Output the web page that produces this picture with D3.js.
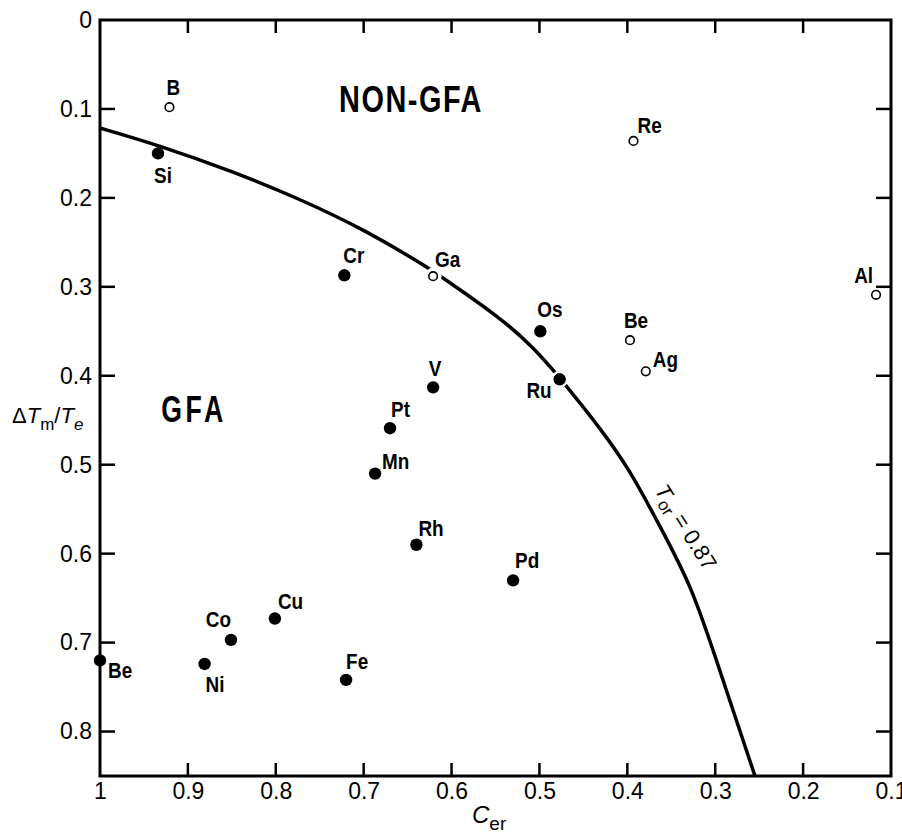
<!DOCTYPE html>
<html>
<head>
<meta charset="utf-8">
<script src="https://cdn.jsdelivr.net/npm/d3@7"></script>
<style>
  body { margin: 0; background: #fff; }
  text { font-family: "Liberation Sans", Arial, sans-serif; fill: #000; }
</style>
</head>
<body>
<script>
let width = 902
let height = 836

// elements
let elements = ["B", "Si", "Cr", "Ga", "Re", "Al", "Os", "Ru", "V", "Pt",
                "Mn", "Rh", "Be", "Ag", "Pd", "Fe", "Cu", "Co", "Ni", "Be"]
let cer = [0.921, 0.934, 0.722, 0.621, 0.393, 0.117, 0.499, 0.477, 0.621, 0.670,
           0.687, 0.640, 0.397, 0.379, 0.530, 0.720, 0.801, 0.851, 0.881, 1.0]
let dtm = [0.098, 0.150, 0.287, 0.288, 0.136, 0.309, 0.350, 0.404, 0.413, 0.459,
           0.510, 0.590, 0.360, 0.395, 0.630, 0.742, 0.673, 0.697, 0.724, 0.720]
let glassForming = [false, true, true, false, false, false, true, true, true, true,
                    true, true, false, false, true, true, true, true, true, true]

// the Tor = 0.87 boundary
let curveCer = [1.0, 0.934, 0.8487, 0.7724, 0.6962, 0.6279, 0.6097, 0.5449, 0.5073,
                0.4846, 0.4686, 0.4311, 0.3970, 0.3628, 0.3264, 0.2980, 0.2548]
let curveDtm = [0.1214, 0.1405, 0.1703, 0.2013, 0.2372, 0.2777, 0.2901, 0.3345, 0.3677,
                0.3935, 0.4126, 0.4587, 0.5060, 0.5695, 0.6375, 0.7218, 0.85]

let xTicks = [1, 0.9, 0.8, 0.7, 0.6, 0.5, 0.4, 0.3, 0.2, 0.1]
let yTicks = [0, 0.1, 0.2, 0.3, 0.4, 0.5, 0.6, 0.7, 0.8]

// label placement: [dx, dy, anchor]
let labelPos = [
    [4, -12, "middle"], [5, 30, "middle"], [-1, -12, "start"], [2, -9, "start"], [4, -8, "start"],
    [-3, -12, "end"], [-3, -14, "start"], [-8, 19, "end"], [2, -11, "middle"], [1, -11, "start"],
    [7, -5, "start"], [2, -9, "start"], [-6, -12, "start"], [7, -4, "start"], [2, -12, "start"],
    [0, -11, "start"], [3, -10, "start"], [0, -13, "end"], [1, 28, "start"], [8, 18, "start"]
]
let onCurve = ["Ga", "Ru"]

let svg = d3.select("body")
    .append("svg")
    .attr("width", width)
    .attr("height", height)

let x = d3.scaleLinear().domain([1, 0.1]).range([100, 891])
let y = d3.scaleLinear().domain([0, 0.85]).range([20, 776])

let pts = elements.map((e, i) => ({name: e, c: cer[i], d: dtm[i], filled: glassForming[i], pos: labelPos[i]}))

// boundary curve
let line = d3.line()
    .x(d => x(d[0]))
    .y(d => y(d[1]))
    .curve(d3.curveBasis)

svg.append("path")
    .datum(curveCer.map((c, i) => [c, curveDtm[i]]))
    .attr("d", line)
    .attr("fill", "none")
    .attr("stroke", "#000")
    .attr("stroke-width", 3.5)

// white gaps where the curve meets a point
svg.append("g").selectAll("circle")
    .data(pts.filter(p => onCurve.includes(p.name)))
    .enter()
    .append("circle")
    .attr("cx", d => x(d.c))
    .attr("cy", d => y(d.d))
    .attr("r", 8.5)
    .attr("fill", "#fff")

// frame
svg.append("rect")
    .attr("x", x(1)).attr("y", y(0))
    .attr("width", x(0.1) - x(1)).attr("height", y(0.85) - y(0))
    .attr("fill", "none")
    .attr("stroke", "#000")
    .attr("stroke-width", 3)

let fmt = d => d === 0 || d === 1 ? String(d) : d.toFixed(1)
let inner = xTicks.slice(1, -1)
let innerY = yTicks.slice(1)

let xAxis = svg.append("g")
    .attr("transform", `translate(0,${y(0.85)})`)
    .call(d3.axisBottom(x).tickValues(xTicks).tickFormat(fmt).tickSize(0).tickPadding(7))
xAxis.select(".domain").remove()
xAxis.selectAll("text").attr("font-size", 23)

let yAxis = svg.append("g")
    .attr("transform", `translate(${x(1)},0)`)
    .call(d3.axisLeft(y).tickValues(yTicks).tickFormat(fmt).tickSize(0).tickPadding(8))
yAxis.select(".domain").remove()
yAxis.selectAll("text").attr("font-size", 23)

// inward tick marks on all four sides
let ticks = svg.append("g").attr("stroke", "#000").attr("stroke-width", 2.5)
ticks.selectAll(".tb").data(inner).enter().append("line")
    .attr("x1", d => x(d)).attr("x2", d => x(d))
    .attr("y1", y(0.85)).attr("y2", y(0.85) - 13)
ticks.selectAll(".tt").data(inner).enter().append("line")
    .attr("x1", d => x(d)).attr("x2", d => x(d))
    .attr("y1", y(0)).attr("y2", y(0) + 13)
ticks.selectAll(".tl").data(innerY).enter().append("line")
    .attr("y1", d => y(d)).attr("y2", d => y(d))
    .attr("x1", x(1)).attr("x2", x(1) + 15)
ticks.selectAll(".tr").data(innerY).enter().append("line")
    .attr("y1", d => y(d)).attr("y2", d => y(d))
    .attr("x1", x(0.1)).attr("x2", x(0.1) - 15)

// points
svg.append("g").selectAll("circle")
    .data(pts)
    .enter()
    .append("circle")
    .attr("cx", d => x(d.c))
    .attr("cy", d => y(d.d))
    .attr("r", d => d.filled ? 6.2 : 4.3)
    .attr("fill", d => d.filled ? "#000" : "#fff")
    .attr("stroke", "#000")
    .attr("stroke-width", d => d.filled ? 0 : 1.6)

// element names, squeezed a little like the original lettering
svg.append("g").selectAll("text")
    .data(pts)
    .enter()
    .append("text")
    .attr("transform", d => `translate(${x(d.c) + d.pos[0]},${y(d.d) + d.pos[1]}) scale(0.86,1)`)
    .attr("text-anchor", d => d.pos[2])
    .attr("font-size", 22)
    .attr("font-weight", "bold")
    .text(d => d.name)

// region labels
svg.append("text")
    .attr("transform", "translate(411,112) scale(0.78,1)")
    .attr("text-anchor", "middle")
    .attr("font-size", 37)
    .attr("font-weight", "bold")
    .attr("letter-spacing", 2)
    .text("NON-GFA")

svg.append("text")
    .attr("transform", "translate(194,422) scale(0.72,1)")
    .attr("text-anchor", "middle")
    .attr("font-size", 37)
    .attr("font-weight", "bold")
    .attr("letter-spacing", 5)
    .text("GFA")

// curve label
let tor = svg.append("text")
    .attr("transform", "translate(686,527) rotate(58)")
    .attr("text-anchor", "middle")
    .attr("dy", "0.35em")
    .attr("font-size", 22)
tor.append("tspan").attr("font-style", "italic").text("T")
tor.append("tspan").attr("font-size", 17).attr("dy", 5).text("or")
tor.append("tspan").attr("dy", -5).text(" = 0.87")

// axis titles
let xt = svg.append("text")
    .attr("x", 472).attr("y", 823)
    .attr("font-size", 24)
xt.append("tspan").attr("font-style", "italic").text("C")
xt.append("tspan").attr("font-size", 19).attr("dy", 7).text("er")

let yt = svg.append("text")
    .attr("x", 12).attr("y", 423)
    .attr("font-size", 22)
yt.append("tspan").text("Δ")
yt.append("tspan").attr("font-style", "italic").text("T")
yt.append("tspan").attr("font-size", 17).attr("dy", 7).text("m")
yt.append("tspan").attr("dy", -7).text("/")
yt.append("tspan").attr("font-style", "italic").text("T")
yt.append("tspan").attr("font-size", 17).attr("font-style", "italic").attr("dy", 7).text("e")
</script>
</body>
</html>
